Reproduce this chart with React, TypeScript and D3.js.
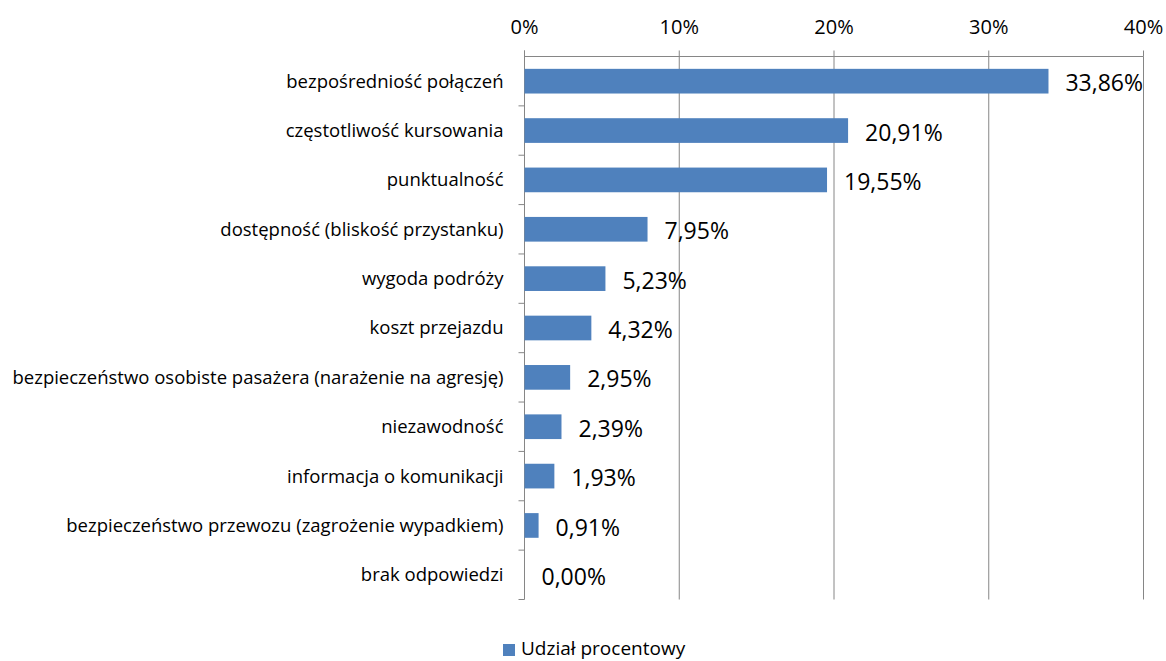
import React from "react";
import * as d3 from "d3";

const categories = [
  "bezpośredniość połączeń",
  "częstotliwość kursowania",
  "punktualność",
  "dostępność (bliskość przystanku)",
  "wygoda podróży",
  "koszt przejazdu",
  "bezpieczeństwo osobiste pasażera (narażenie na agresję)",
  "niezawodność",
  "informacja o komunikacji",
  "bezpieczeństwo przewozu (zagrożenie wypadkiem)",
  "brak odpowiedzi",
];
const values = [33.86, 20.91, 19.55, 7.95, 5.23, 4.32, 2.95, 2.39, 1.93, 0.91, 0.0];
const ticks = [0, 10, 20, 30, 40];
const seriesName = "Udział procentowy";

const W = 1166, H = 661;
const left = 524.5, right = 1143.5, top = 56.5, bottom = 599.5;
const FONT = "'Open Sans', 'Liberation Sans', sans-serif";
const BAR = "#4F81BD";
const AXIS = "#868686";

const fmt = (v: number) => v.toFixed(2).replace(".", ",") + "%";

export default function App() {
  const x = d3.scaleLinear().domain([0, 40]).range([left, right]);
  const y = d3.scaleBand<string>().domain(categories).range([top, bottom]).paddingInner(0.5).paddingOuter(0.25);
  const band = d3.scaleBand<string>().domain(categories).range([top, bottom]);
  return (
    <svg width={W} height={H} style={{ position: "absolute", left: 0, top: 0 }} fontFamily={FONT}>
      <rect width={W} height={H} fill="#fff" />
      {ticks.map((t) => (
        <g key={t}>
          {t > 0 && <line x1={x(t)} x2={x(t)} y1={top} y2={bottom} stroke={AXIS} strokeWidth={1} />}
          <line x1={x(t)} x2={x(t)} y1={top - 6} y2={top} stroke={AXIS} />
          <text x={x(t)} y={34} textAnchor="middle" fontSize={20} fill="#000">{t}%</text>
        </g>
      ))}
      <line x1={left} x2={right} y1={top} y2={top} stroke={AXIS} />
      <line x1={left} x2={left} y1={top - 6} y2={bottom} stroke={AXIS} />
      {categories.map((c) => (
        <line key={"t" + c} x1={left - 6} x2={left} y1={(band(c) as number) + band.bandwidth()} y2={(band(c) as number) + band.bandwidth()} stroke={AXIS} />
      ))}
      {categories.map((c, i) => {
        const cy = (band(c) as number) + band.bandwidth() / 2;
        return (
          <g key={c}>
            {values[i] > 0 && (
              <rect x={x(0)} y={y(c)} width={x(values[i]) - x(0)} height={y.bandwidth()} fill={BAR} />
            )}
            <text x={left - 21} y={cy} dy="0.35em" textAnchor="end" fontSize={18.5} fill="#000">{c}</text>
            <text x={x(values[i]) + 17} y={cy + 2} dy="0.35em" fontSize={23} fill="#000">{fmt(values[i])}</text>
          </g>
        );
      })}
      <rect x={503} y={644} width={12} height={12} fill={BAR} />
      <text x={521} y={648.5} dy="0.35em" fontSize={19} fill="#000">{seriesName}</text>
    </svg>
  );
}
